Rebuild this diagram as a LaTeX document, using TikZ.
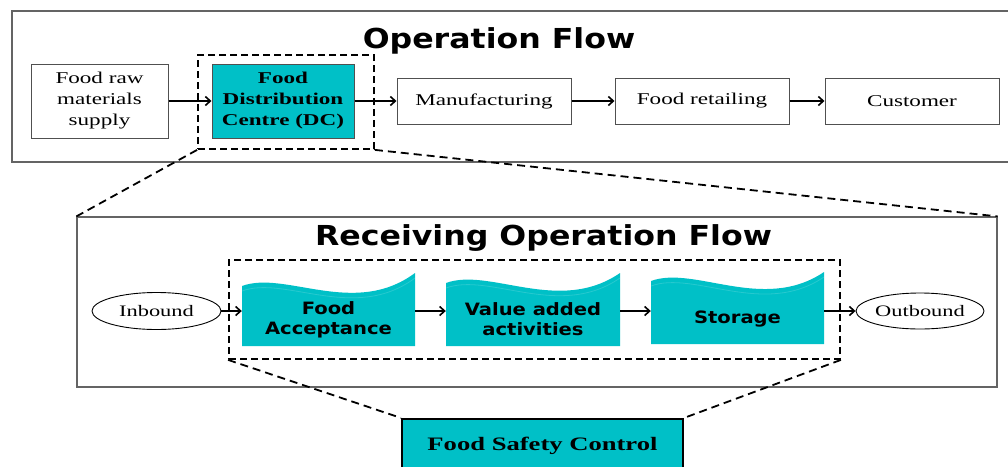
\documentclass[tikz,border=0pt]{standalone}
\usepackage{fontspec}
\setmainfont{Liberation Serif}
\newfontfamily\serifwide[FakeStretch=1.4]{Liberation Serif}
\newfontfamily\sanswide[FakeStretch=1.15]{DejaVu Sans}
\usetikzlibrary{arrows.meta,shapes.geometric}

\definecolor{dcteal}{RGB}{0,192,199}
\definecolor{framegray}{RGB}{100,100,100}
\definecolor{boxgray}{RGB}{80,80,80}

\tikzset{
  frame/.style={draw=framegray, line width=1.2pt, inner sep=0pt},
  plainbox/.style={draw=boxgray, line width=1pt, fill=white, inner sep=0pt,
    align=center, font=\serifwide\fontsize{16.5}{21}\selectfont},
  dcbox/.style={plainbox, fill=dcteal, font=\serifwide\bfseries\fontsize{16.5}{21}\selectfont},
  endpoint/.style={ellipse, draw=black, line width=0.9pt, fill=white, inner sep=0pt,
    font=\serifwide\fontsize{16}{18}\selectfont},
  wavetext/.style={inner sep=0pt, align=center,
    font=\sanswide\bfseries\fontsize{17}{20}\selectfont},
  titletext/.style={inner sep=0pt, anchor=base,
    font=\sanswide\bfseries\fontsize{27.5}{30}\selectfont},
  zoomframe/.style={draw=black, line width=1.8pt, dash pattern=on 7pt off 4pt, inner sep=0pt},
  zoomline/.style={draw=black, line width=1.8pt, dash pattern=on 8pt off 5pt},
  flowarrow/.style={-{Straight Barb[length=5pt,width=9pt,line width=1.6pt]}, line width=1.8pt},
}

% teal banner with a wavy top edge: x0, x1, bottom, left top, right top
\newcommand\wavefill[5]{%
  \pgfmathsetmacro\wA{#1+0.25*(#2-#1)}%
  \pgfmathsetmacro\wB{#1+0.65*(#2-#1)}%
  \pgfmathsetmacro\hA{#4-16}%
  \pgfmathsetmacro\hB{#4+32}%
  \pgfmathsetmacro\lA{#4+5}%
  \pgfmathsetmacro\lB{#5+5}%
  \pgfmathsetmacro\cA{\hA+5}%
  \pgfmathsetmacro\cB{\hB+5}%
  \fill[dcteal] (#1,#3) -- (#1,#4) .. controls (\wA,\hA) and (\wB,\hB) .. (#2,#5) -- (#2,#3) -- cycle;
  \draw[white, opacity=0.15, line width=0.8pt] (#1,\lA) .. controls (\wA,\cA) and (\wB,\cB) .. (#2,\lB);
}

\begin{document}
\begin{tikzpicture}[x=1pt, y=-1pt]
  \useasboundingbox (0,0) rectangle (1008,466);
  \clip (0,0) rectangle (1008,466);
  \fill[white] (0,0) rectangle (1008,466);

  % ---------- overall operation flow ----------
  \node[frame, minimum width=1000pt, minimum height=151pt] (opframe) at (512,86.5) {};
  \node[titletext] (optitle) at (499,48) {Operation Flow};

  \node[plainbox, minimum width=137pt, minimum height=74pt] (raw) at (99.5,101) {Food raw\\materials\\supply};
  \node[zoomframe, minimum width=176pt, minimum height=94pt] (dcframe) at (286,102) {};
  \node[dcbox, minimum width=142pt, minimum height=74pt] (dc) at (283,101) {Food\\Distribution\\Centre (DC)};
  \node[plainbox, minimum width=174pt, minimum height=46pt] (man) at (484,101) {Manufacturing};
  \node[plainbox, minimum width=174pt, minimum height=46pt] (ret) at (702,101) {Food retailing};
  \node[plainbox, minimum width=174pt, minimum height=46pt] (cus) at (912,101) {Customer};

  \draw[flowarrow] (raw.east) -- (dc.west);
  \draw[flowarrow] (dc.east) -- (man.west);
  \draw[flowarrow] (man.east) -- (ret.west);
  \draw[flowarrow] (ret.east) -- (cus.west);

  % ---------- receiving operation flow ----------
  \node[frame, minimum width=920pt, minimum height=170pt] (recframe) at (537,302) {};
  \node[titletext] (rectitle) at (543.5,245) {Receiving Operation Flow};

  \draw[zoomline] (dcframe.south west) -- (recframe.north west);
  \draw[zoomline] (dcframe.south east) -- (recframe.north east);

  \node[zoomframe, minimum width=611pt, minimum height=99pt] (procframe) at (534.5,309.5) {};

  \wavefill{242}{415}{346}{286}{273}
  \wavefill{446}{620}{346}{283}{273}
  \wavefill{651}{824}{344}{281}{272}

  \node[wavetext, minimum width=173pt, minimum height=56pt] (fa) at (328.5,320) {Food\\Acceptance};
  \node[wavetext, minimum width=174pt, minimum height=56pt] (va) at (533,319) {Value added\\activities};
  \node[wavetext, minimum width=173pt, minimum height=56pt] (st) at (737.5,319) {Storage};

  \node[endpoint, minimum width=129pt, minimum height=37pt] (inb) at (156.5,311) {Inbound};
  \node[endpoint, minimum width=128pt, minimum height=36pt] (outb) at (920,311) {Outbound};

  \draw[flowarrow] (inb.east) -- ([yshift=9pt]fa.west);
  \draw[flowarrow] ([yshift=9pt]fa.east) -- ([yshift=8pt]va.west);
  \draw[flowarrow] ([yshift=8pt]va.east) -- ([yshift=8pt]st.west);
  \draw[flowarrow] ([yshift=8pt]st.east) -- (outb.west);

  % ---------- food safety control ----------
  \node[draw=black, line width=2.2pt, fill=dcteal, inner sep=0pt,
        minimum width=281pt, minimum height=54pt,
        font=\serifwide\bfseries\fontsize{19}{21}\selectfont] (fsc) at (542.5,446) {Food Safety Control};

  \draw[zoomline] (procframe.south west) -- (fsc.north west);
  \draw[zoomline] (procframe.south east) -- (fsc.north east);
\end{tikzpicture}
\end{document}
